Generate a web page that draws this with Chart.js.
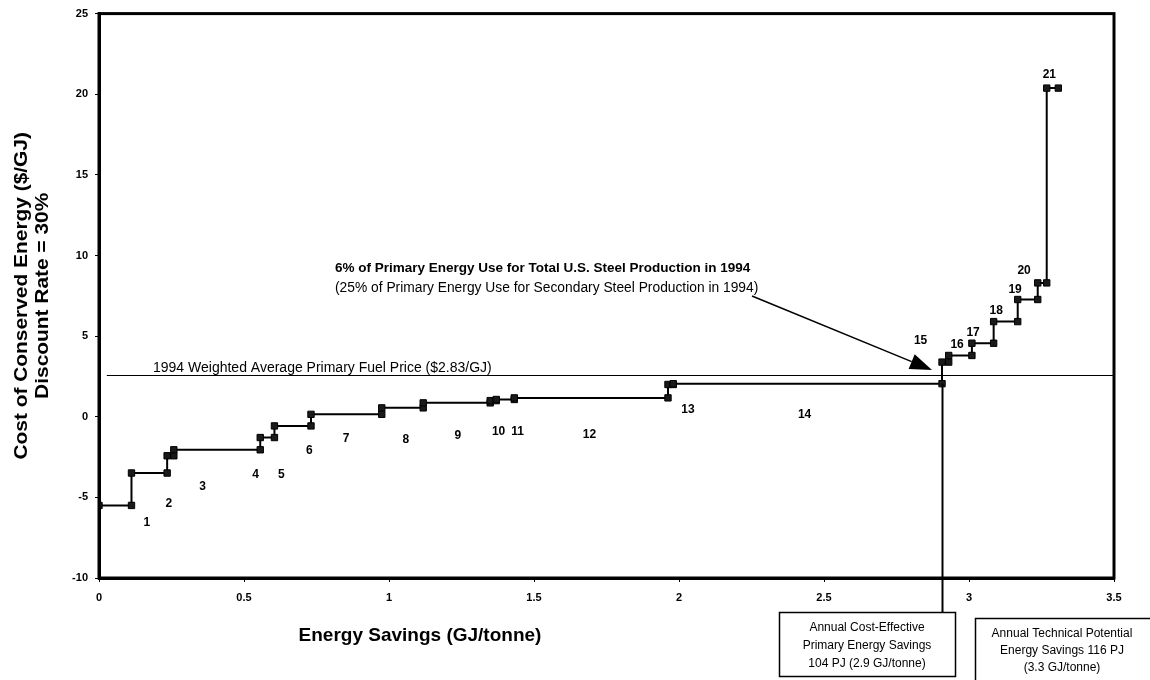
<!DOCTYPE html>
<html><head><meta charset="utf-8">
<script src="https://cdn.jsdelivr.net/npm/chart.js@4.4.1/dist/chart.umd.min.js"></script>
<style>html,body{margin:0;padding:0;background:#fff}#wrap{width:1150px;height:680px;position:relative}</style>
</head><body><div id="wrap"><canvas id="c" width="1150" height="680"></canvas></div>
<script>
// Cumulative energy savings boundaries (GJ/tonne) and cost of each step ($/GJ)
const savingsBounds = [0, 0.112, 0.235, 0.258, 0.556, 0.605, 0.731, 0.975, 1.118, 1.349, 1.370, 1.432, 1.962, 1.980, 2.907, 2.930, 3.010, 3.085, 3.168, 3.237, 3.268, 3.308];
const stepCosts = [-5.50, -3.49, -2.42, -2.05, -1.29, -0.57, 0.15, 0.55, 0.86, 1.00, 1.07, 1.17, 2.00, 2.05, 3.39, 3.80, 4.56, 5.90, 7.27, 8.30, 20.38];
// Measure number labels and where they sit (data units)
const measureLabels = ["1","2","3","4","5","6","7","8","9","10","11","12","13","14","15","16","17","18","19","20","21"];
const measureLabelX = [0.165, 0.241, 0.357, 0.540, 0.629, 0.725, 0.852, 1.058, 1.237, 1.378, 1.443, 1.691, 2.031, 2.433, 2.833, 2.959, 3.014, 3.094, 3.159, 3.190, 3.277];
const measureLabelY = [-6.55, -5.38, -4.33, -3.59, -3.59, -2.11, -1.37, -1.43, -1.19, -0.94, -0.94, -1.13, 0.41, 0.15, 4.71, 4.46, 5.24, 6.56, 7.89, 9.04, 21.24];
const xTicks = [0, 0.5, 1, 1.5, 2, 2.5, 3, 3.5];
const yTicks = [-10, -5, 0, 5, 10, 15, 20, 25];
const fuelPrice = 2.57;
const fuelLineStart = 0.027;
const costEffectiveSavings = 2.907;

const FONT = '"Liberation Sans", Arial, Helvetica, sans-serif';

const curve = [];
stepCosts.forEach((c, i) => {
  curve.push({x: savingsBounds[i], y: c});
  curve.push({x: savingsBounds[i + 1], y: c});
});

const annot = {
  id: 'annot',
  afterDraw(chart) {
    const {ctx, chartArea: a, scales: {x, y}} = chart;
    ctx.save();
    ctx.fillStyle = '#000';
    ctx.strokeStyle = '#000';
    // frame
    ctx.lineWidth = 3;
    ctx.strokeRect(a.left, a.top, a.right - a.left, a.bottom - a.top);
    // fuel price line
    const fy = Math.round(y.getPixelForValue(fuelPrice)) + 0.5;
    ctx.lineWidth = 1.2;
    ctx.beginPath();
    ctx.moveTo(x.getPixelForValue(fuelLineStart), fy);
    ctx.lineTo(a.right, fy);
    ctx.stroke();
    ctx.font = '14px ' + FONT;
    ctx.textAlign = 'left';
    ctx.textBaseline = 'alphabetic';
    ctx.fillText('1994 Weighted Average Primary Fuel Price ($2.83/GJ)', 153, fy - 4);
    // headline annotation
    ctx.font = 'bold 13.5px ' + FONT;
    ctx.textBaseline = 'middle';
    ctx.fillText('6% of Primary Energy Use for Total U.S. Steel Production in 1994', 335, 268);
    ctx.font = '13.8px ' + FONT;
    ctx.fillText('(25% of Primary Energy Use for Secondary Steel Production in 1994)', 335, 288);
    // arrow
    const x0 = 752, y0 = 296, x1 = 932, y1 = 370;
    const ang = Math.atan2(y1 - y0, x1 - x0);
    const hl = 22, hw = 8;
    ctx.lineWidth = 1.5;
    ctx.beginPath();
    ctx.moveTo(x0, y0);
    ctx.lineTo(x1 - hl * Math.cos(ang), y1 - hl * Math.sin(ang));
    ctx.stroke();
    ctx.beginPath();
    ctx.moveTo(x1, y1);
    ctx.lineTo(x1 - hl * Math.cos(ang) + hw * Math.sin(ang), y1 - hl * Math.sin(ang) - hw * Math.cos(ang));
    ctx.lineTo(x1 - hl * Math.cos(ang) - hw * Math.sin(ang), y1 - hl * Math.sin(ang) + hw * Math.cos(ang));
    ctx.closePath();
    ctx.fill();
    // measure labels
    ctx.font = 'bold 12px ' + FONT;
    ctx.textAlign = 'center';
    measureLabels.forEach((t, i) => {
      ctx.fillText(t, x.getPixelForValue(measureLabelX[i]), y.getPixelForValue(measureLabelY[i]));
    });
    // vertical line from cost-effective point down to box
    const vx = Math.round(x.getPixelForValue(costEffectiveSavings)) + 0.5;
    ctx.lineWidth = 2;
    ctx.beginPath();
    ctx.moveTo(vx, y.getPixelForValue(stepCosts[13]));
    ctx.lineTo(vx, 612);
    ctx.stroke();
    // boxes
    ctx.lineWidth = 1.5;
    ctx.fillStyle = '#fff';
    ctx.fillRect(779.5, 612.5, 176, 64);
    ctx.strokeRect(779.5, 612.5, 176, 64);
    ctx.fillRect(975.5, 618.5, 180, 70);
    ctx.strokeRect(975.5, 618.5, 180, 70);
    ctx.fillStyle = '#000';
    ctx.font = '12px ' + FONT;
    ['Annual Cost-Effective', 'Primary Energy Savings', '104 PJ (2.9 GJ/tonne)'].forEach((t, i) => {
      ctx.fillText(t, 867, 628 + i * 18);
    });
    ['Annual Technical Potential', 'Energy Savings 116 PJ', '(3.3 GJ/tonne)'].forEach((t, i) => {
      ctx.fillText(t, 1062, 634 + i * 17);
    });
    // axis titles
    ctx.font = 'bold 19px ' + FONT;
    ctx.fillText('Energy Savings (GJ/tonne)', 420, 636);
    ctx.save();
    ctx.translate(22, (a.top + a.bottom) / 2);
    ctx.rotate(-Math.PI / 2);
    ctx.scale(1.1, 1);
    ctx.font = 'bold 19px ' + FONT;
    ctx.fillText('Cost of Conserved Energy ($/GJ)', 0, 0);
    ctx.fillText('Discount Rate = 30%', 0, 21);
    ctx.restore();
    ctx.restore();
  }
};

new Chart(document.getElementById('c'), {
  type: 'scatter',
  data: {
    datasets: [{
      data: curve,
      showLine: true,
      borderColor: '#000',
      borderWidth: 2,
      pointStyle: 'rect',
      pointRadius: 4.5,
      pointBackgroundColor: '#1a1a1a',
      pointBorderColor: '#000',
      pointBorderWidth: 1,
      tension: 0
    }, {
      data: curve,
      showLine: false,
      pointStyle: 'crossRot',
      pointRadius: 2,
      pointBorderColor: '#bbb',
      pointBorderWidth: 1
    }]
  },
  options: {
    responsive: false,
    devicePixelRatio: 1,
    animation: false,
    layout: {padding: {left: 0, right: 36, top: 10, bottom: 62}},
    plugins: {legend: {display: false}, tooltip: {enabled: false}},
    scales: {
      x: {
        type: 'linear', min: 0, max: 3.5,
        afterFit(s) { s.height = 40; },
        afterBuildTicks(s) { s.ticks = xTicks.map(v => ({value: v})); },
        grid: {drawOnChartArea: false, drawTicks: true, tickLength: 4, color: '#000'},
        border: {display: true, width: 3, color: '#000'},
        ticks: {padding: 9, color: '#000', font: {family: FONT, size: 11, weight: 'bold'}, maxRotation: 0,
          callback: v => String(v)}
      },
      y: {
        type: 'linear', min: -10, max: 25,
        afterFit(s) { s.width = 99; },
        afterBuildTicks(s) { s.ticks = yTicks.map(v => ({value: v})); },
        grid: {drawOnChartArea: false, drawTicks: true, tickLength: 4, color: '#000'},
        border: {display: true, width: 3, color: '#000'},
        ticks: {padding: 7, color: '#000', font: {family: FONT, size: 11, weight: 'bold'},
          callback: v => String(v)}
      }
    }
  },
  plugins: [annot]
});
</script>
</body></html>
